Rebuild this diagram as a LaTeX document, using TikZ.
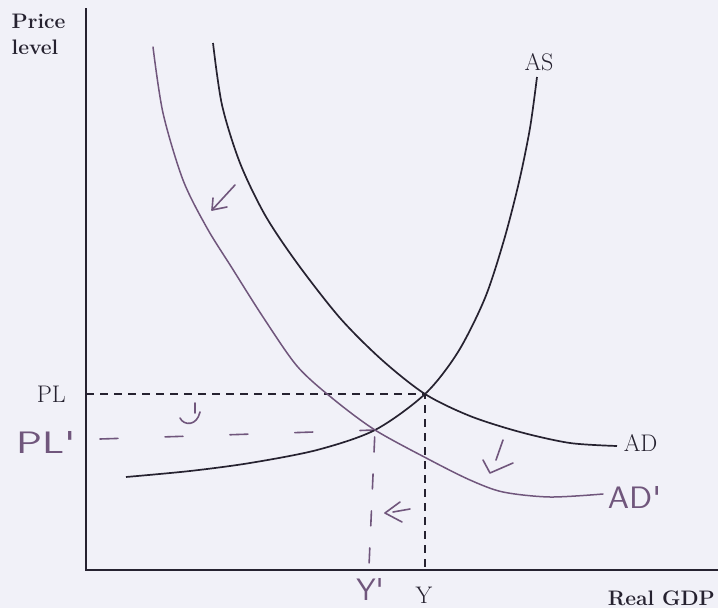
\documentclass[tikz,border=0pt]{standalone}
\definecolor{pen}{RGB}{112,86,124}
\definecolor{lineblack}{RGB}{38,34,48}
\definecolor{paper}{RGB}{241,241,248}
\begin{document}
\begin{tikzpicture}[x=1pt,y=-1pt,line width=1.5pt,
  every node/.style={inner sep=0pt,text=lineblack,font=\fontsize{24}{28}\selectfont},
  curve/.style={draw=lineblack,line width=1.7pt},
  guide/.style={draw=lineblack,line width=1.4pt,dash pattern=on 8pt off 6pt},
  ink/.style={draw=pen,line width=1.6pt,line cap=round,line join=round},
  hand/.style={text=pen,font=\sffamily\fontsize{31}{31}\selectfont},
  axtitle/.style={font=\bfseries\fontsize{21}{26}\selectfont,align=left}]
\useasboundingbox (0,0) rectangle (718,608);
\fill[paper] (0,0) rectangle (718,608);
\coordinate (O) at (86,570);
\coordinate (ytop) at (86,8);
\coordinate (xend) at (718,570);
\coordinate (E) at (425,394);
\coordinate (E1) at (375,430);
\coordinate (PLfoot) at (86,394);
\coordinate (Yfoot) at (425,570);
\coordinate (PL1start) at (100,439);
\coordinate (Y1foot) at (369,566);
% axes
\draw[lineblack,line width=2pt] (ytop) -- (O) -- (xend);
% equilibrium guides
\draw[guide] (PLfoot) -- (E) -- (Yfoot);
\draw[ink,dash pattern=on 18pt off 47pt] (PL1start) -- (E1);
\draw[ink,dash pattern=on 15pt off 22pt,dash phase=30pt] (E1) -- (Y1foot);
% AS, AD and AD'
\draw[curve] plot[smooth] coordinates {(126,477) (190,471) (250,463) (317,450) (E1) (E) (458,352) (485,298) (504,240) (519,182) (530,128) (537,77)};
\draw[curve] plot[smooth] coordinates {(213,43) (222,105) (240,163) (265,215) (297,263) (340,318) (382,360) (E) (470,416) (520,432) (570,443) (617,446)};
\draw[ink,line width=1.5pt] plot[smooth] coordinates {(153,47) (163,113) (183,180) (207,228) (232,268) (263,317) (297,366) (332,398) (E1) (430,460) (470,480) (503,492) (550,497) (603,494)};
% hand arrows
\draw[ink] (235,185) -- (212,210);
\draw[ink] (213,198) -- (212,210) -- (227,207);
\draw[ink] (503,440) -- (496,460);
\draw[ink] (483,460) -- (490,473) -- (513,463);
\draw[ink] (410,509) -- (393,512);
\draw[ink] (400,502) -- (385,513) -- (402,522);
\draw[ink] (195,403) -- (195,413);
\draw[ink] (180,418) .. controls (184,426) and (197,426) .. (200,412);
% labels
\node[axtitle,anchor=north west] (pricelevel) at (11,13) {Price\\level};
\node[axtitle,anchor=base west] (realgdp) at (607,605) {Real GDP};
\node[anchor=base west] (PL) at (36,402) {PL};
\node[anchor=base] (AS) at (539,70) {AS};
\node[anchor=base west] (AD) at (623,451) {AD};
\node[anchor=base] (Y) at (424,603) {Y};
\node[hand,anchor=base west,xscale=1.4] (PL1) at (15,453) {PL\textquotesingle};
\node[hand,anchor=base west,xscale=1.1] (AD1) at (607,508) {AD\textquotesingle};
\node[hand,anchor=base] (Y1) at (370,600) {Y\textquotesingle};
\end{tikzpicture}
\end{document}
